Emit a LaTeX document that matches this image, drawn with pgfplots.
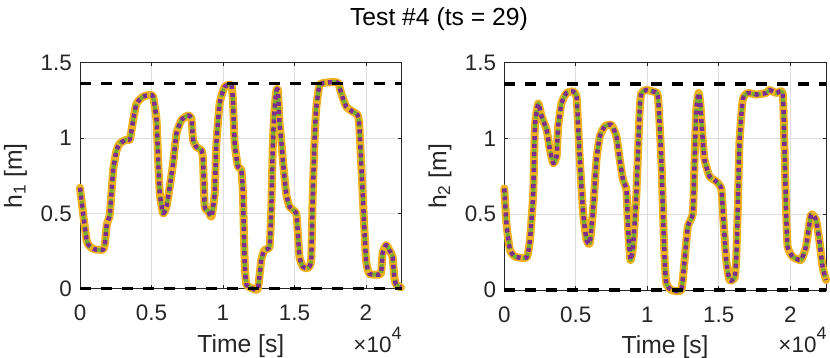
\documentclass[border=0pt]{standalone}
\usepackage{pgfplots}
\pgfplotsset{compat=1.18}
\usepackage{pgfplotstable}
\usepackage{fontspec}
\setmainfont{Liberation Sans}

\definecolor{mlorange}{rgb}{0.929,0.694,0.125}
\definecolor{mlgreen}{rgb}{0.466,0.674,0.188}
\definecolor{mlpurple}{rgb}{0.494,0.184,0.556}
\definecolor{mlaxis}{rgb}{0.15,0.15,0.15}

% h1 trace
\pgfplotstableread{
t h
0 0.67
468 0.32
816 0.27
1116 0.26
1626 0.26
1745 0.30
1863 0.42
1990 0.46
2093 0.50
2324 0.79
2561 0.92
2791 0.965
3259 0.99
3489 0.99
3719 1.12
3957 1.23
4417 1.275
4885 1.286
5115 1.275
5352 1.12
5464 0.855
5582 0.63
5813 0.50
6050 0.545
6280 0.68
6511 0.83
6748 1.03
7097 1.12
7557 1.15
7794 1.13
7906 0.99
8143 0.94
8492 0.92
8604 0.855
8722 0.545
8953 0.52
9190 0.478
9420 0.63
9539 0.965
9769 1.23
10118 1.34
10586 1.35
10697 1.25
10816 0.965
11046 0.81
11283 0.79
11395 0.63
11514 0.19
11632 0.03
12093 0.0
12442 0.0
12679 0.19
12909 0.257
13258 0.28
13377 0.52
13489 0.965
13607 1.19
13726 1.31
13837 1.32
13956 1.10
14074 0.99
14186 0.855
14423 0.63
14653 0.545
15121 0.50
15233 0.37
15352 0.21
15582 0.146
15931 0.136
16168 0.19
16280 0.63
16398 0.965
16517 1.19
16747 1.35
17215 1.368
18024 1.368
18261 1.30
18610 1.21
19071 1.175
19420 1.153
19538 1.076
19769 0.63
20006 0.19
20236 0.10
20704 0.094
21053 0.10
21164 0.235
21402 0.29
21632 0.257
21862 0.21
21981 0.08
22100 0.03
22449 0.008
}\hone

% h2 trace
\pgfplotstableread{
t h
0 0.67
167 0.42
398 0.264
747 0.22
1563 0.215
1793 0.33
2024 0.64
2142 1.08
2373 1.23
2610 1.145
2959 1.057
3189 0.925
3419 0.837
3656 0.88
3768 1.08
4005 1.234
4354 1.30
4815 1.31
5052 1.278
5164 1.08
5282 0.86
5513 0.507
5750 0.33
5980 0.31
6210 0.53
6448 0.86
6678 1.013
7027 1.08
7494 1.09
7843 1.013
8074 0.86
8304 0.727
8541 0.66
8653 0.42
8820 0.198
9002 0.286
9239 0.64
9469 1.19
9588 1.30
9937 1.32
10397 1.31
10746 1.278
10983 0.86
11095 0.53
11214 0.198
11333 0.044
11681 0.0
12379 0.0
12609 0.198
12840 0.42
13189 0.507
13307 0.86
13426 1.19
13586 1.30
13705 1.234
13844 1.035
14005 0.86
14354 0.75
14821 0.716
15170 0.672
15282 0.53
15519 0.198
15749 0.066
16098 0.077
16217 0.198
16328 0.53
16447 0.97
16677 1.256
17026 1.30
17612 1.29
18310 1.30
18540 1.32
19008 1.30
19468 1.30
19587 0.97
19705 0.53
19817 0.286
20166 0.22
20752 0.198
21101 0.286
21450 0.496
21799 0.463
22030 0.33
22260 0.154
22500 0.066
}\htwo

\pgfplotsset{
  mlstyle/.style={
    scale only axis,
    width=321.7bp,
    xmin=0, xmax=22500,
    ymin=0, ymax=1.5,
    clip=false,
    axis line style={mlaxis, line width=0.7bp},
    tick style={mlaxis, line width=0.7bp},
    major tick length=3.5bp,
    tick align=inside,
    grid=major,
    major grid style={black!13, line width=0.6bp},
    xtick={0,5000,10000,15000,20000},
    xticklabels={0,0.5,1,1.5,2},
    ytick={0,0.5,1,1.5},
    yticklabels={0,0.5,1,1.5},
    tick label style={font=\fontsize{22.5}{22.5}\selectfont, text=mlaxis},
    xticklabel style={anchor=base, yshift=-32bp},
    yticklabel style={anchor=east, inner sep=0pt, xshift=-8bp},
    every axis x label/.style={at={(rel axis cs:0.5,0)}, anchor=base, yshift=-63.5bp,
      font=\fontsize{24.8}{24.8}\selectfont, text=mlaxis},
    every axis y label/.style={at={(rel axis cs:0,0.5)}, rotate=90, anchor=base, yshift=58bp,
      font=\fontsize{24.8}{24.8}\selectfont, text=mlaxis},
    xlabel={Time [s]},
  },
  ormain/.style={mlorange, line width=8bp, line cap=round, line join=round, smooth, tension=0.3},
  grdash/.style={mlgreen, line width=4bp, line join=round, dash pattern=on 9bp off 4bp, smooth, tension=0.3},
  pudot/.style={mlpurple, line width=4.5bp, line join=round, dash pattern=on 4bp off 4bp, smooth, tension=0.3},
  bklim/.style={black, line width=3.2bp, dash pattern=on 11bp off 10bp},
}
\tikzset{
  scalelbl/.style={inner sep=0pt, text=mlaxis, font=\fontsize{22.5}{22.5}\selectfont},
  scaleexp/.style={inner sep=0pt, text=mlaxis, font=\fontsize{18}{18}\selectfont},
}

\begin{document}
\begin{tikzpicture}
\path[use as bounding box] (0,0) rectangle (830bp,358bp);

\begin{axis}[mlstyle, height=226bp, at={(80bp,69.3bp)}, anchor=south west,
  ylabel={h\textsubscript{1} [m]}]
\addplot[ormain] table[x=t,y=h] {\hone};
\addplot[grdash] table[x=t,y=h] {\hone};
\addplot[pudot] table[x=t,y=h] {\hone};
\addplot[bklim] coordinates {(0,1.36) (22500,1.36)};
\addplot[bklim] coordinates {(0,0) (22500,0)};
\end{axis}

\begin{axis}[mlstyle, height=227.3bp, at={(504.3bp,68bp)}, anchor=south west,
  ylabel={h\textsubscript{2} [m]}]
\addplot[ormain] table[x=t,y=h] {\htwo};
\addplot[grdash] table[x=t,y=h] {\htwo};
\addplot[pudot] table[x=t,y=h] {\htwo};
\addplot[bklim] coordinates {(0,1.36) (22500,1.36)};
\addplot[bklim] coordinates {(0,0) (22500,0)};
\end{axis}

\node[anchor=base, text=black, font=\fontsize{24.8}{24.8}\selectfont] at (439bp,332bp) {Test \#4 (ts = 29)};
% x10^4 scale labels
\node[scaleexp, anchor=base east] at (401.7bp,19bp) {4};
\node[scalelbl, anchor=base east] at (391.7bp,6bp) {×10};
\node[scaleexp, anchor=base east] at (826.7bp,19bp) {4};
\node[scalelbl, anchor=base east] at (816.7bp,6bp) {×10};
\end{tikzpicture}
\end{document}
